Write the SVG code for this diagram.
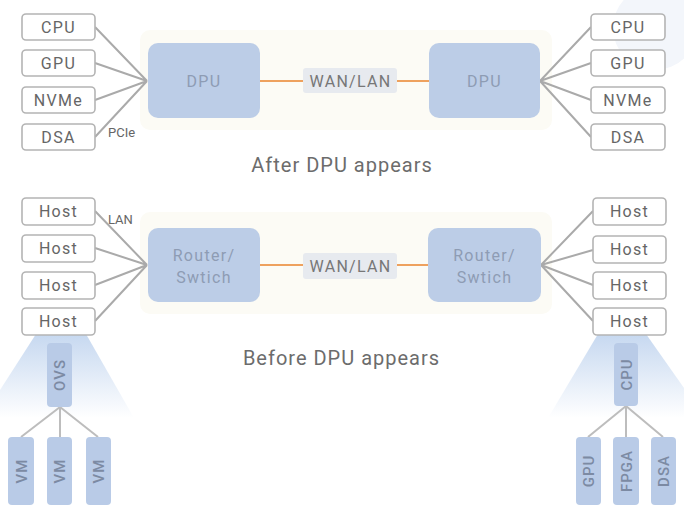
<svg xmlns="http://www.w3.org/2000/svg" width="684" height="528" viewBox="0 0 684 528">
<defs>
<linearGradient id="fan" x1="0" y1="0" x2="0" y2="1">
<stop offset="0" stop-color="#c6d8f0"/>
<stop offset="1" stop-color="#c6d8f0" stop-opacity="0"/>
</linearGradient>
<style>
.sb{fill:#ffffff;stroke:#b4b4b4;stroke-width:1.6}
.st{font-family:Roboto,"Liberation Sans",sans-serif;font-size:16px;letter-spacing:1.3px;fill:#666666;text-anchor:middle}
.bb{fill:#bccde7}
.bt{font-family:Roboto,"Liberation Sans",sans-serif;font-size:16px;letter-spacing:1.3px;fill:#8e9cb4;text-anchor:middle}
.vb{fill:#b9cbe7}
.vt{font-family:Roboto,"Liberation Sans",sans-serif;font-size:15px;font-weight:500;letter-spacing:1px;fill:#7c8aa3;text-anchor:middle}
.cap{font-family:Roboto,"Liberation Sans",sans-serif;font-size:20px;letter-spacing:1px;fill:#6c6c6c;text-anchor:middle}
.lbl{font-family:Roboto,"Liberation Sans",sans-serif;font-size:13px;fill:#666666}
.gl{stroke:#aaaaaa;stroke-width:2;fill:none}
.vl{stroke:#bdbdbd;stroke-width:2;fill:none}
.ol{stroke:#eea15e;stroke-width:2;fill:none}
.wl{fill:#e7eaef}
.wt{font-family:Roboto,"Liberation Sans",sans-serif;font-size:16px;letter-spacing:1.3px;fill:#777777;text-anchor:middle}
</style>
</defs>
<rect width="684" height="528" fill="#ffffff"/>
<circle cx="655" cy="28" r="42" fill="#f3f6fb"/>
<rect x="140" y="30" width="412" height="100" rx="10" fill="#fcfbf5"/>
<rect x="140" y="212" width="412" height="102" rx="10" fill="#fcfbf5"/>
<polygon points="36,334 86,334 134,418 -18,418" fill="url(#fan)"/>
<polygon points="598,334 646,334 705,418 548,418" fill="url(#fan)"/>

<g id="connectors">
<path class="gl" d="M95,27 L147,81 M95,63 L147,81 M95,100 L147,81 M95,137 L147,81"/>
<path class="gl" d="M540,81 L591,27 M540,81 L591,63 M540,81 L591,100 M540,81 L591,137"/>
<path class="gl" d="M95,211 L147,265 M95,248 L147,265 M95,285 L147,265 M95,321 L147,265"/>
<path class="gl" d="M541,265 L593,211 M541,265 L593,250 M541,265 L593,285 M541,265 L593,321"/>
<path class="ol" d="M260,81 L303,81 M397,81 L429,81"/>
<path class="ol" d="M260,265 L303,265 M397,265 L428,265"/>
<path class="vl" d="M60,407 L21,437 M60,407 L60,437 M60,407 L98,437"/>
<path class="vl" d="M626,406 L588,437 M626,406 L626,437 M626,406 L663,437"/>
<text class="lbl" x="108" y="137">PCIe</text>
<text class="lbl" x="108" y="224">LAN</text>
</g>

<g id="top-left-cpu"><rect class="sb" x="22" y="14" width="73" height="26" rx="4"/><text class="st" x="58.5" y="32.5">CPU</text></g>
<g id="top-left-gpu"><rect class="sb" x="22" y="50" width="73" height="26" rx="4"/><text class="st" x="58.5" y="68.5">GPU</text></g>
<g id="top-left-nvme"><rect class="sb" x="22" y="87" width="73" height="26" rx="4"/><text class="st" x="58.5" y="105.5">NVMe</text></g>
<g id="top-left-dsa"><rect class="sb" x="22" y="124" width="73" height="26" rx="4"/><text class="st" x="58.5" y="142.5">DSA</text></g>
<g id="dpu-left"><rect class="bb" x="148" y="43" width="112" height="75" rx="10"/><text class="bt" x="204" y="87">DPU</text></g>
<g id="wan-top"><rect class="wl" x="303" y="68" width="94" height="25" rx="3"/><text class="wt" x="350.5" y="86.5">WAN/LAN</text></g>
<g id="dpu-right"><rect class="bb" x="429" y="43" width="111" height="75" rx="10"/><text class="bt" x="484.5" y="87">DPU</text></g>
<g id="top-right-cpu"><rect class="sb" x="591" y="14" width="74" height="26" rx="4"/><text class="st" x="628" y="32.5">CPU</text></g>
<g id="top-right-gpu"><rect class="sb" x="591" y="50" width="74" height="26" rx="4"/><text class="st" x="628" y="68.5">GPU</text></g>
<g id="top-right-nvme"><rect class="sb" x="591" y="87" width="74" height="26" rx="4"/><text class="st" x="628" y="105.5">NVMe</text></g>
<g id="top-right-dsa"><rect class="sb" x="591" y="124" width="74" height="26" rx="4"/><text class="st" x="628" y="142.5">DSA</text></g>
<g id="caption-after"><text class="cap" x="342" y="172">After DPU appears</text></g>

<g id="host-l1"><rect class="sb" x="22" y="198" width="73" height="27" rx="4"/><text class="st" x="58.5" y="217">Host</text></g>
<g id="host-l2"><rect class="sb" x="22" y="235" width="73" height="27" rx="4"/><text class="st" x="58.5" y="254">Host</text></g>
<g id="host-l3"><rect class="sb" x="22" y="272" width="73" height="27" rx="4"/><text class="st" x="58.5" y="291">Host</text></g>
<g id="host-l4"><rect class="sb" x="22" y="308" width="73" height="27" rx="4"/><text class="st" x="58.5" y="327">Host</text></g>
<g id="router-left"><rect class="bb" x="148" y="228" width="112" height="74" rx="10"/><text class="bt" x="204" y="261">Router/</text><text class="bt" x="204" y="283">Swtich</text></g>
<g id="wan-bottom"><rect class="wl" x="303" y="253" width="94" height="26" rx="3"/><text class="wt" x="350.5" y="271.5">WAN/LAN</text></g>
<g id="router-right"><rect class="bb" x="428" y="228" width="113" height="74" rx="10"/><text class="bt" x="484.5" y="261">Router/</text><text class="bt" x="484.5" y="283">Swtich</text></g>
<g id="host-r1"><rect class="sb" x="593" y="198" width="73" height="27" rx="4"/><text class="st" x="629.5" y="217">Host</text></g>
<g id="host-r2"><rect class="sb" x="593" y="236" width="73" height="27" rx="4"/><text class="st" x="629.5" y="255">Host</text></g>
<g id="host-r3"><rect class="sb" x="593" y="272" width="73" height="27" rx="4"/><text class="st" x="629.5" y="291">Host</text></g>
<g id="host-r4"><rect class="sb" x="593" y="308" width="73" height="27" rx="4"/><text class="st" x="629.5" y="327">Host</text></g>
<g id="caption-before"><text class="cap" x="341.5" y="365">Before DPU appears</text></g>

<g id="ovs"><rect class="vb" x="47" y="343" width="25" height="64" rx="4"/><text class="vt" transform="translate(65,375) rotate(-90)">OVS</text></g>
<g id="vm1"><rect class="vb" x="8" y="437" width="26" height="68" rx="4"/><text class="vt" transform="translate(26.5,471) rotate(-90)">VM</text></g>
<g id="vm2"><rect class="vb" x="47" y="437" width="25" height="68" rx="4"/><text class="vt" transform="translate(65,471) rotate(-90)">VM</text></g>
<g id="vm3"><rect class="vb" x="86" y="437" width="25" height="68" rx="4"/><text class="vt" transform="translate(104,471) rotate(-90)">VM</text></g>
<g id="cpu-v"><rect class="vb" x="614" y="343" width="24" height="63" rx="4"/><text class="vt" transform="translate(631.5,374.5) rotate(-90)">CPU</text></g>
<g id="gpu-v"><rect class="vb" x="576" y="437" width="25" height="68" rx="4"/><text class="vt" transform="translate(594,471) rotate(-90)">GPU</text></g>
<g id="fpga-v"><rect class="vb" x="613" y="437" width="26" height="68" rx="4"/><text class="vt" transform="translate(631.5,471) rotate(-90)">FPGA</text></g>
<g id="dsa-v"><rect class="vb" x="651" y="437" width="25" height="68" rx="4"/><text class="vt" transform="translate(669,471) rotate(-90)">DSA</text></g>
</svg>
